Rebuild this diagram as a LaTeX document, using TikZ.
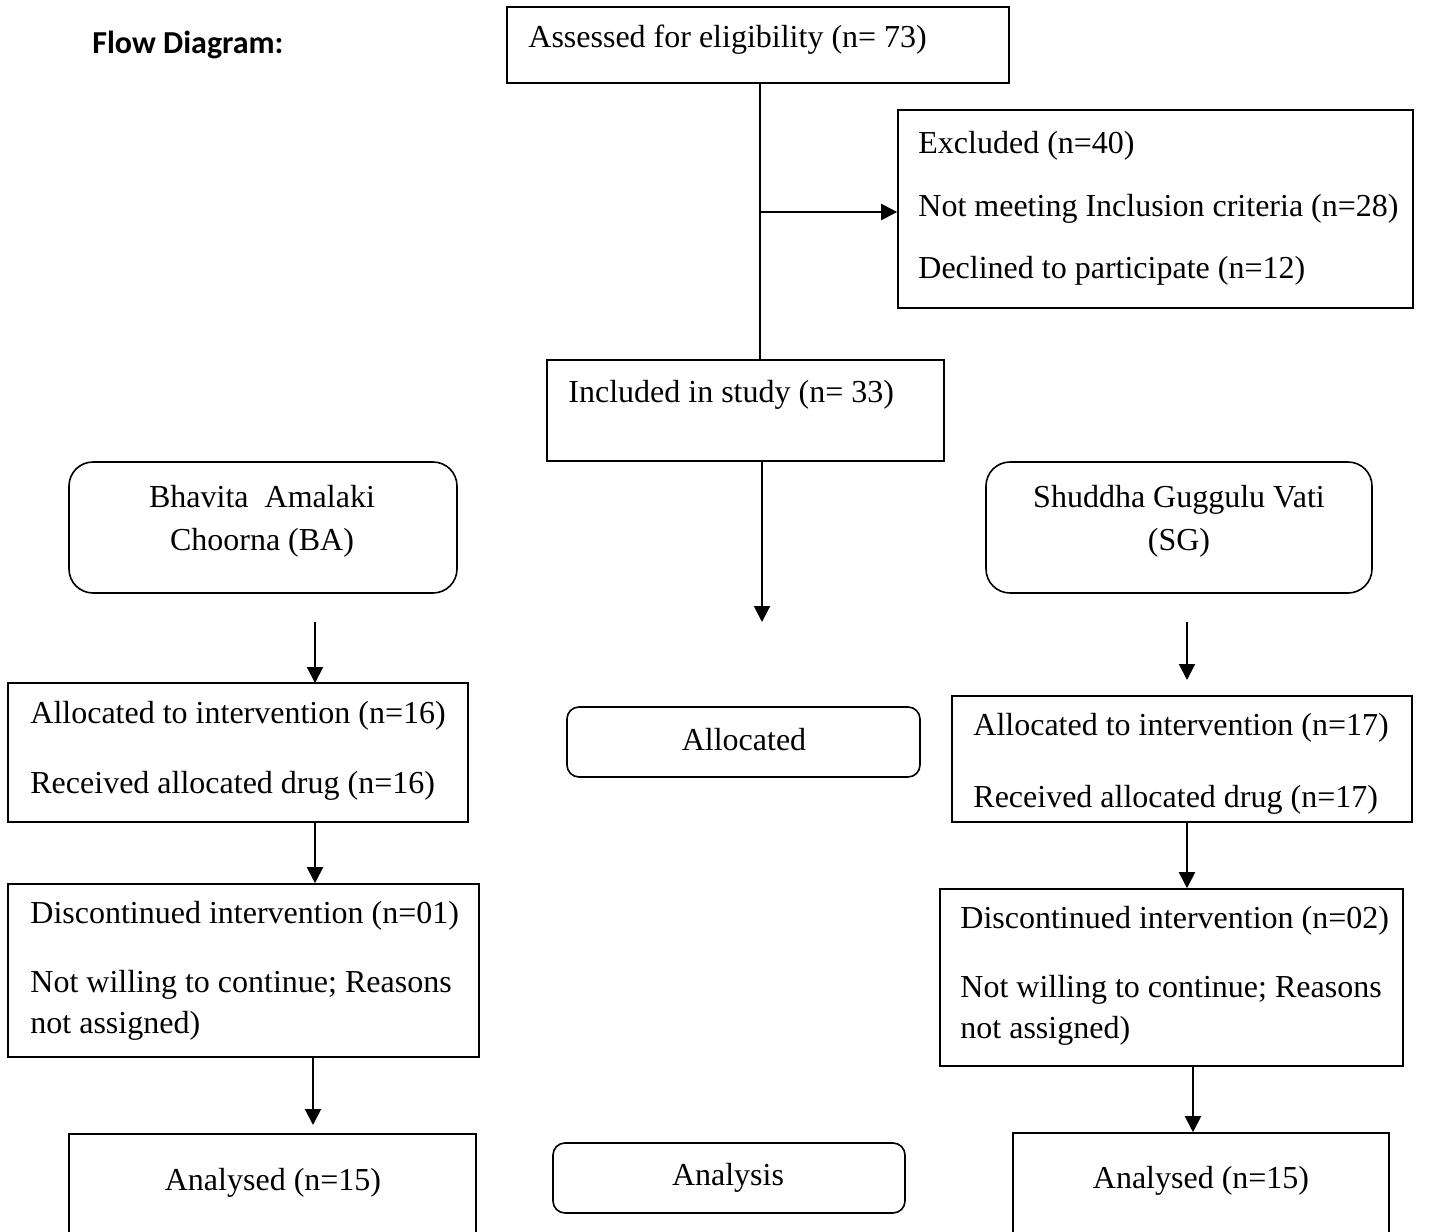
\documentclass[tikz,border=0pt]{standalone}
\usepackage{fontspec}
\setmainfont{Liberation Serif}
\newfontfamily\titlefont{Carlito}
\usetikzlibrary{arrows.meta}
\begin{document}
\begin{tikzpicture}[x=0.5pt,y=-0.5pt,
  box/.style={draw, line width=0.8pt, inner sep=0pt},
  rbox/.style={box, rounded corners=6pt},
  bigr/.style={box, rounded corners=12pt},
  wh/.style 2 args={minimum width=#1*0.5pt, minimum height=#2*0.5pt},
  txt/.style={font=\fontsize{16}{19}\selectfont, inner sep=0pt, anchor=base west},
  ctxt/.style={txt, anchor=base},
  arr/.style={line width=1pt, -{Triangle[length=8pt,width=8pt]}},
  ln/.style={line width=0.9pt}]
\clip (0,0) rectangle (1437,1232);
\useasboundingbox (0,0) rectangle (1437,1232);

% title
\node[inner sep=0pt, anchor=base west, font=\titlefont\bfseries\fontsize{16}{19}\selectfont] (title) at (92,53) {Flow Diagram:};

% boxes
\node[box, wh={502}{76}] (assess) at (758,45) {};
\node[box, wh={515}{198}] (excl) at (1155.5,209) {};
\node[box, wh={397}{101}] (incl) at (745.5,410.5) {};
\node[bigr, wh={388}{131}] (ba) at (263,527.5) {};
\node[bigr, wh={386}{131}] (sg) at (1179,527.5) {};
\node[box, wh={460}{139}] (allocL) at (238,752.5) {};
\node[rbox, wh={353}{70}] (allocM) at (743.5,742) {};
\node[box, wh={460}{126}] (allocR) at (1182,759) {};
\node[box, wh={471}{173}] (discL) at (243.5,970.5) {};
\node[box, wh={463}{177}] (discR) at (1171.5,977.5) {};
\node[box, wh={407}{110}] (anaL) at (272.5,1189) {};
\node[rbox, wh={352}{70}] (anaM) at (729,1178) {};
\node[box, wh={376}{110}] (anaR) at (1201,1188) {};

% texts
\node[txt] (t1) at (528,47) {Assessed for eligibility (n= 73)};
\node[txt] (t2) at (918,153) {Excluded (n=40)};
\node[txt] (t3) at (918,216) {Not meeting Inclusion criteria (n=28)};
\node[txt] (t4) at (918,278) {Declined to participate (n=12)};
\node[txt] (t5) at (568,402) {Included in study (n= 33)};
\node[ctxt] (t6) at (262,507) {Bhavita\ \ Amalaki};
\node[ctxt] (t7) at (262,550) {Choorna (BA)};
\node[ctxt] (t8) at (1179,507) {Shuddha Guggulu Vati};
\node[ctxt] (t9) at (1179,550) {(SG)};
\node[txt] (t10) at (30,723) {Allocated to intervention (n=16)};
\node[txt] (t11) at (30,793) {Received allocated drug (n=16)};
\node[ctxt] (t12) at (744,750) {Allocated};
\node[txt] (t13) at (973,735) {Allocated to intervention (n=17)};
\node[txt] (t14) at (973,807) {Received allocated drug (n=17)};
\node[txt] (t15) at (30,923) {Discontinued intervention (n=01)};
\node[txt] (t16) at (30,992) {Not willing to continue; Reasons};
\node[txt] (t17) at (30,1033) {not assigned)};
\node[txt] (t18) at (960,928) {Discontinued intervention (n=02)};
\node[txt] (t19) at (960,997) {Not willing to continue; Reasons};
\node[txt] (t20) at (960,1038) {not assigned)};
\node[ctxt] (t21) at (273,1190) {Analysed (n=15)};
\node[ctxt] (t22) at (728,1185) {Analysis};
\node[ctxt] (t23) at (1201,1188) {Analysed (n=15)};

% connectors
\coordinate (j) at (760,212);
\draw[ln] (assess.south -| j) -- (incl.north -| j);
\draw[arr] (j) -- (excl.west |- j);
\coordinate (c1) at (762,622);
\draw[arr] (incl.south -| c1) -- (c1);
\coordinate (c2a) at (315,622);
\coordinate (c2b) at (315,683);
\draw[arr] (c2a) -- (c2b);
\coordinate (c3a) at (1187,622);
\coordinate (c3b) at (1187,680);
\draw[arr] (c3a) -- (c3b);
\coordinate (c4) at (315,0);
\draw[arr] (allocL.south -| c4) -- (discL.north -| c4);
\coordinate (c5) at (1187,0);
\draw[arr] (allocR.south -| c5) -- (discR.north -| c5);
\coordinate (c6) at (313,1125);
\draw[arr] (discL.south -| c6) -- (c6);
\coordinate (c7) at (1193,0);
\draw[arr] (discR.south -| c7) -- (anaR.north -| c7);
\end{tikzpicture}
\end{document}
